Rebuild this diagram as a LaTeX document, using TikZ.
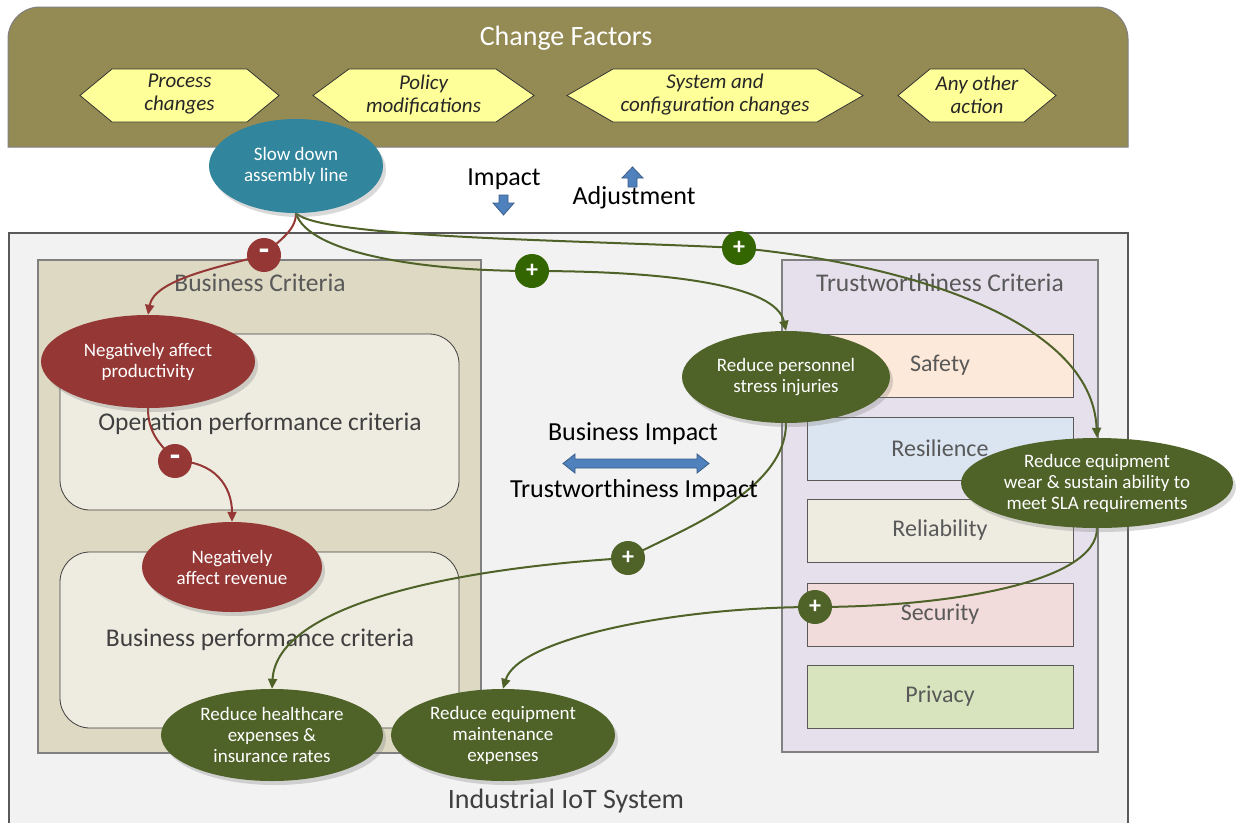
\documentclass[tikz,border=0pt]{standalone}
\usepackage{fontspec}
\setmainfont{Carlito}
\usetikzlibrary{arrows.meta,shapes.geometric,shadows}
\pgfdeclarelayer{back}
\pgfdeclarelayer{conn}
\pgfsetlayers{back,conn,main}
\definecolor{olivebox}{HTML}{948A54}
\definecolor{mainfill}{HTML}{F2F2F2}
\definecolor{busfill}{HTML}{DDD9C3}
\definecolor{trustfill}{HTML}{E5E0EC}
\definecolor{innerfill}{HTML}{EEECE1}
\definecolor{safefill}{HTML}{FDE9D9}
\definecolor{resfill}{HTML}{DBE5F1}
\definecolor{relfill}{HTML}{EEECE1}
\definecolor{secfill}{HTML}{F2DCDB}
\definecolor{privfill}{HTML}{D7E4BD}
\definecolor{redc}{HTML}{953735}
\definecolor{greenc}{HTML}{4F6228}
\definecolor{brightg}{HTML}{336600}
\definecolor{tealc}{HTML}{31859C}
\definecolor{hexfill}{HTML}{FFFF99}
\definecolor{bluearr}{HTML}{4F81BD}
\definecolor{bluebord}{HTML}{385D8A}
\definecolor{titlegray}{HTML}{595959}
\definecolor{darkgray}{HTML}{3F3F3F}
\begin{document}
\begin{tikzpicture}[x=1pt,y=-1pt,
  hexbox/.style={fill=hexfill,draw=black!80,line width=0.8pt},
  hextext/.style={align=center,font=\fontsize{21}{23}\selectfont\itshape,text=black!85},
  ell/.style={ellipse,inner sep=0pt,text=white,align=center,
    font=\fontsize{19}{21}\selectfont,
    drop shadow={shadow xshift=3pt,shadow yshift=-4pt,opacity=0.3}},
  redell/.style={ell,fill=redc},
  greenell/.style={ell,fill=greenc},
  tealell/.style={ell,fill=tealc},
  signnode/.style={circle,minimum size=34pt,inner sep=0pt,text=white,
    font=\fontsize{24}{24}\selectfont\bfseries},
  minusnode/.style={signnode,fill=redc,font=\fontsize{34}{34}\selectfont\bfseries},
  crit/.style={draw=titlegray,line width=0.8pt,text=titlegray,
    font=\fontsize{24}{26}\selectfont},
  title/.style={text=titlegray,font=\fontsize{25.5}{28}\selectfont},
  redline/.style={draw=redc,line width=2pt},
  greenline/.style={draw=greenc,line width=2pt},
  tip/.style={-{Triangle[length=10pt,width=9pt]}},
  bigtext/.style={font=\fontsize{26}{28}\selectfont,text=black},
  blockarr/.style={fill=bluearr,draw=bluebord,line width=0.8pt}
]
\useasboundingbox (0,0) rectangle (1244,822);
\clip (0,0) rectangle (1244,822);

\begin{pgfonlayer}{back}
% top box
\filldraw[fill=olivebox,draw=black!50,line width=1pt]
  (8,147) [rounded corners=32] -- (8,7) -- (1128,7) [sharp corners] -- (1128,147) -- cycle;
\node[text=white,font=\fontsize{28}{30}\selectfont] (cf) at (566,38) {Change Factors};
% hexagons
\filldraw[hexbox] (80,95.5) -- (112,69) -- (247,69) -- (279,95.5) -- (247,122) -- (112,122) -- cycle;
\node[hextext] (h1) at (179.5,94.5) {Process\\changes};
\filldraw[hexbox] (313,95.5) -- (349,69) -- (496,69) -- (534,95.5) -- (496,122) -- (349,122) -- cycle;
\node[hextext] (h2) at (423.5,94.5) {Policy\\modifications};
\filldraw[hexbox] (567,95.5) -- (613,69) -- (817,69) -- (863,95.5) -- (817,122) -- (613,122) -- cycle;
\node[hextext] (h3) at (715,94.5) {System and\\configuration changes};
\filldraw[hexbox] (898,95.5) -- (930,69) -- (1024,69) -- (1056,95.5) -- (1024,122) -- (930,122) -- cycle;
\node[hextext] (h4) at (977,94.5) {Any other\\action};

% main box
\filldraw[fill=mainfill,draw=titlegray,line width=1.5pt] (9,233) rectangle (1128,840);
\node[text=darkgray,font=\fontsize{28}{30}\selectfont] (iot) at (566,801) {Industrial IoT System};

% business criteria
\filldraw[fill=busfill,draw=black!50,line width=1.2pt] (38,260) rectangle (481,753);
\node[title] (bc) at (260,283) {Business Criteria};
\filldraw[fill=innerfill,draw=darkgray,line width=0.8pt,rounded corners=30] (60,334) rectangle (459,510);
\node[title,text=darkgray] (opc) at (260,424) {Operation performance criteria};
\filldraw[fill=innerfill,draw=darkgray,line width=0.8pt,rounded corners=30] (60,552) rectangle (459,728);
\node[title,text=darkgray] (bpc) at (260,640) {Business performance criteria};

% trustworthiness criteria
\filldraw[fill=trustfill,draw=black!50,line width=1.2pt] (782,260) rectangle (1098,752);
\node[title] (tc) at (940,283) {Trustworthiness Criteria};
\node[crit,fill=safefill,minimum width=266pt,minimum height=63pt] (safety) at (940,365.5) {Safety};
\node[crit,fill=resfill,minimum width=266pt,minimum height=63pt] (resil) at (940,448.5) {Resilience};
\node[crit,fill=relfill,minimum width=266pt,minimum height=63pt] (relia) at (940,530.5) {Reliability};
\node[crit,fill=secfill,minimum width=266pt,minimum height=63pt] (secur) at (940,614.5) {Security};
\node[crit,fill=privfill,minimum width=266pt,minimum height=63pt] (priv) at (940,696.5) {Privacy};
\end{pgfonlayer}

% labels and block arrows
\node[bigtext] (imp) at (504,179) {Impact};
\filldraw[blockarr] (499,195) -- (508,195) -- (508,203) -- (514,203) -- (503.5,215) -- (493,203) -- (499,203) -- cycle;
\node[bigtext] (adj) at (634,198) {Adjustment};
\filldraw[blockarr] (628,187) -- (637,187) -- (637,178) -- (643,178) -- (632.5,167) -- (622,178) -- (628,178) -- cycle;
\node[bigtext] (bi) at (633,434) {Business Impact};
\node[bigtext] (ti) at (634,491) {Trustworthiness Impact};
\filldraw[blockarr] (563,463.5) -- (575,454) -- (575,459) -- (697,459) -- (697,454) -- (709,463.5) -- (697,473) -- (697,468) -- (575,468) -- (575,473) -- cycle;

% ellipses
\node[tealell,minimum width=174pt,minimum height=94pt] (slow) at (296,166) {Slow down\\assembly line};
\node[redell,minimum width=214pt,minimum height=93pt] (prod) at (148,361.5) {Negatively affect\\productivity};
\node[redell,minimum width=180pt,minimum height=90pt] (rev) at (232,567) {Negatively\\affect revenue};
\node[greenell,minimum width=208pt,minimum height=92pt] (pers) at (786,377) {Reduce personnel\\stress injuries};
\node[greenell,minimum width=272pt,minimum height=90pt] (sla) at (1097,483) {Reduce equipment\\wear \& sustain ability to\\meet SLA requirements};
\node[greenell,minimum width=222pt,minimum height=92pt] (hc) at (272,735) {Reduce healthcare\\expenses \&\\insurance rates};
\node[greenell,minimum width=224pt,minimum height=92pt] (maint) at (503,735) {Reduce equipment\\maintenance\\expenses};

% signs
\node[minusnode] (m1) at (264,255) {-};
\node[minusnode] (m2) at (175,461) {-};
\node[signnode,fill=brightg] (p1) at (532,271) {+};
\node[signnode,fill=brightg] (p2) at (739,248) {+};
\node[signnode,fill=greenc] (p3) at (628,558) {+};
\node[signnode,fill=greenc] (p4) at (815,607) {+};

\begin{pgfonlayer}{conn}
\draw[redline] (slow.south) .. controls +(0,18) and +(14,-14) .. (m1.center);
\draw[redline,tip] (m1.center) .. controls +(-45,12) and +(6,-35) .. (prod.north);
\draw[redline] (prod.south) .. controls +(0,28) and +(-12,-15) .. (m2.center);
\draw[redline,tip] (m2.center) .. controls +(40,0) and +(0,-35) .. (rev.north);
\draw[greenline] (slow.south) .. controls +(12,40) and +(-110,0) .. (p1.center);
\draw[greenline,tip] (p1.center) .. controls +(140,0) and +(-10,-45) .. (pers.north);
\draw[greenline] (slow.south) .. controls +(25,25) and +(-160,-8) .. (p2.center);
\draw[greenline,tip] (p2.center) .. controls +(160,15) and +(-5,-120) .. (sla.north);
\draw[greenline] (pers.south) .. controls +(0,70) and +(45,-25) .. (p3.center);
\draw[greenline,tip] (p3.center) .. controls +(-170,10) and +(5,-85) .. (hc.north);
\draw[greenline] (sla.south) .. controls +(0,55) and +(130,0) .. (p4.center);
\draw[greenline,tip] (p4.center) .. controls +(-140,0) and +(15,-50) .. (maint.north);
\end{pgfonlayer}
\end{tikzpicture}
\end{document}
